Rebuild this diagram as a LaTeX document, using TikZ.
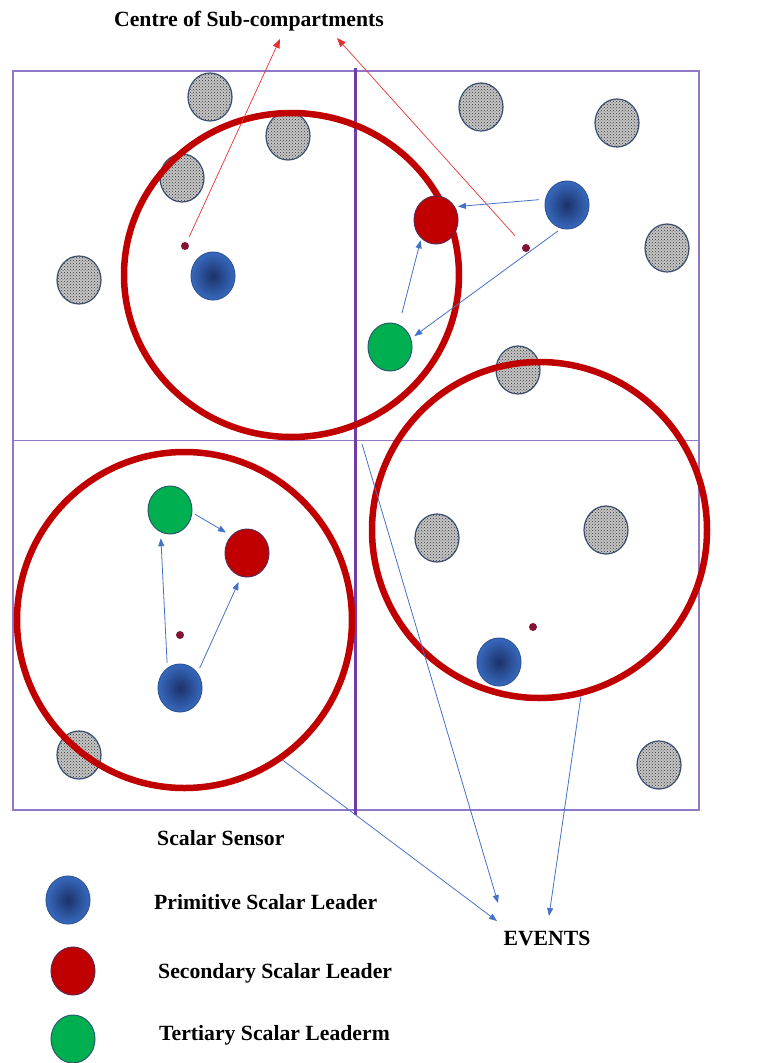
\documentclass[tikz,border=0pt]{standalone}
\usepackage{fontspec}
\setmainfont{Liberation Serif}
\usetikzlibrary{shapes.geometric,patterns,arrows.meta}
\definecolor{rectc}{RGB}{145,120,200}
\definecolor{vlinec}{RGB}{112,60,170}
\definecolor{ringc}{RGB}{192,0,0}
\definecolor{arrred}{RGB}{230,50,50}
\definecolor{arrblue}{RGB}{68,114,196}
\definecolor{sensorb}{RGB}{60,80,120}
\definecolor{bluein}{RGB}{28,50,105}
\definecolor{blueout}{RGB}{55,105,190}
\definecolor{blueb}{RGB}{47,85,151}
\definecolor{leadred}{RGB}{192,0,0}
\definecolor{leadredb}{RGB}{95,40,80}
\definecolor{leadgreen}{RGB}{0,176,80}
\definecolor{leadgreenb}{RGB}{40,90,110}
\definecolor{dotc}{RGB}{128,20,50}
\begin{document}
\begin{tikzpicture}[x=1pt,y=-1pt,
  lbl/.style={font=\bfseries\fontsize{21.7}{26}\selectfont,inner sep=0pt},
  sensor/.style={ellipse,minimum width=44pt,minimum height=48pt,inner sep=0pt,draw=sensorb,line width=1.2pt,fill=gray!45,postaction={pattern=crosshatch dots,pattern color=gray!40!black}},
  leadblue/.style={ellipse,minimum width=44pt,minimum height=48pt,inner sep=0pt,draw=blueb,line width=1pt,shading=radial,inner color=bluein,outer color=blueout},
  leadred/.style={ellipse,minimum width=44pt,minimum height=48pt,inner sep=0pt,draw=leadredb,line width=1pt,fill=leadred},
  leadgreen/.style={ellipse,minimum width=44pt,minimum height=48pt,inner sep=0pt,draw=leadgreenb,line width=1pt,fill=leadgreen},
  cdot/.style={circle,minimum size=8pt,inner sep=0pt,fill=dotc},
  ring/.style={ellipse,draw=ringc,line width=6.5pt,inner sep=0pt},
  redarr/.style={draw=arrred,line width=0.7pt,-{Triangle[length=9pt,width=7pt]}},
  bluearr/.style={draw=arrblue,line width=0.8pt,-{Triangle[length=8pt,width=6pt]}},
]
\useasboundingbox (0,0) rectangle (767,1063);
% frame
\draw[rectc,line width=1.5pt] (13,71) rectangle (699,810);
\draw[rectc,line width=1.5pt] (13,440.5) -- (699,440.5);
\draw[vlinec,line width=3pt] (355,68) -- (355,815);
% sensors
\node[sensor] (S1) at (210,97) {};
\node[sensor] (S2) at (288,136) {};
\node[sensor] (S3) at (182,178) {};
\node[sensor] (S4) at (79,280) {};
\node[sensor] (S5) at (481,107) {};
\node[sensor] (S6) at (617,123) {};
\node[sensor] (S7) at (667,248) {};
\node[sensor] (S8) at (518,370) {};
\node[sensor] (S9) at (437,538) {};
\node[sensor] (S10) at (606,530) {};
\node[sensor] (S11) at (659,765) {};
\node[sensor] (S12) at (79,755) {};
% sub-compartment rings
\node[ring,minimum width=335pt,minimum height=324pt] (ringA) at (291.5,275) {};
\node[ring,minimum width=335pt,minimum height=336pt] (ringB) at (539.5,530) {};
\node[ring,minimum width=335pt,minimum height=336pt] (ringC) at (184.5,620) {};
% leaders
\node[leadblue] (B1) at (213,276) {};
\node[leadblue] (B2) at (567,205) {};
\node[leadblue] (B3) at (180,688) {};
\node[leadblue] (B4) at (499,662) {};
\node[leadred] (R1) at (436,220) {};
\node[leadred] (R2) at (247,553) {};
\node[leadgreen] (G1) at (390,347) {};
\node[leadgreen] (G2) at (170,510) {};
% centres
\node[cdot] (D1) at (185,246) {};
\node[cdot] (D2) at (526,248) {};
\node[cdot] (D3) at (180,635) {};
\node[cdot] (D4) at (533,627) {};
% texts
\node[lbl] (title) at (249,21) {Centre of Sub-compartments};
\node[lbl] (events) at (547,938) {EVENTS};
\node[lbl,anchor=west] (lsensor) at (157,838) {Scalar Sensor};
\node[lbl,anchor=west] (lprim) at (154,902) {Primitive Scalar Leader};
\node[lbl,anchor=west] (lsec) at (158,973) {Secondary Scalar Leader};
\node[lbl,anchor=west] (lter) at (159,1035) {Tertiary Scalar Leaderm};
\node[leadblue] (LB) at (68,900) {};
\node[leadred] (LR) at (73,971) {};
\node[leadgreen] (LG) at (73,1039) {};
% arrow end points
\coordinate (t1) at (280,39);
\coordinate (t2) at (337,38);
\coordinate (ev1) at (497,921);
\coordinate (ev2) at (498,903);
\coordinate (ev3) at (549,916);
\coordinate (cs) at (362,444);
% red arrows to title
\draw[redarr,shorten <=6pt] (D1) -- (t1);
\draw[redarr,shorten <=12pt] (D2) -- (t2);
% blue arrows in top-right
\draw[bluearr,shorten <=6pt,shorten >=3pt] (B2.165) -- (R1.35);
\draw[bluearr,shorten <=4pt,shorten >=4pt] (B2.-104) -- (G1.22);
\draw[bluearr,shorten <=12pt,shorten >=2pt] (G1.68) -- (R1.231);
% blue arrows in bottom-left
\draw[bluearr,shorten <=3pt,shorten >=6pt] (G2.-7) -- (R2.132);
\draw[bluearr,shorten <=5pt,shorten >=6pt] (B3.122) -- (G2.247);
\draw[bluearr,shorten <=5pt,shorten >=6pt] (B3.41) -- (R2.256);
% arrows to events
\draw[bluearr] (ringC.-55) -- (ev1);
\draw[bluearr] (cs) -- (ev2);
\draw[bluearr] (ringB.-76) -- (ev3);
\end{tikzpicture}
\end{document}
